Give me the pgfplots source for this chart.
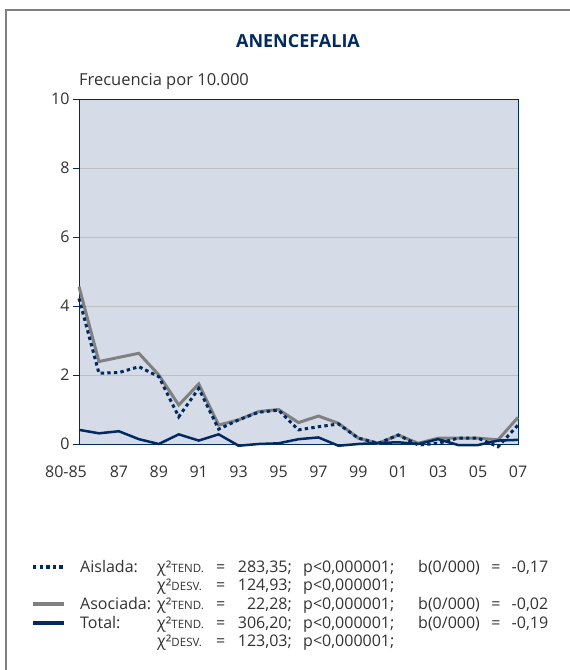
\documentclass[border=0pt]{standalone}
\usepackage{pgfplots}
\pgfplotsset{compat=1.18}
\usepackage{fontspec}
\setmainfont{Open Sans}
\definecolor{navy}{RGB}{0,42,96}
\definecolor{bgc}{RGB}{214,220,231}
\definecolor{grayline}{RGB}{128,128,128}
\definecolor{txt}{RGB}{50,50,50}
\newcommand{\chisq}[1]{χ²{\fontsize{11.5}{11.5}\selectfont #1}}
\pgfplotstableread{
x ais aso tot
0 4.22 4.56 0.41
1 2.05 2.39 0.31
2 2.07 2.51 0.37
3 2.24 2.63 0.14
4 1.95 2.00 0.00
5 0.79 1.13 0.28
6 1.61 1.74 0.10
7 0.43 0.55 0.28
8 0.70 0.70 -0.05
9 0.92 0.94 0.00
10 0.98 1.00 0.02
11 0.41 0.62 0.14
12 0.50 0.81 0.19
13 0.58 0.60 -0.05
14 0.17 0.17 0.00
15 0.02 0.02 0.03
16 0.26 0.26 0.05
17 -0.03 0.02 0.00
18 0.02 0.17 0.14
19 0.17 0.17 -0.03
20 0.17 0.17 -0.03
21 -0.08 0.12 0.10
22 0.55 0.77 0.12
}\datatable
\begin{document}
\begin{tikzpicture}
\path[use as bounding box] (0pt,0pt) rectangle (570pt,670pt);
\draw[grayline, line width=2.5pt] (6pt,-5pt) -- (6pt,660pt) -- (575pt,660pt);
\node[font=\fontsize{18}{18}\selectfont\bfseries, text=navy] at (298pt,628.5pt) {ANENCEFALIA};
\node[font=\fontsize{16.5}{16.5}\selectfont, text=txt, anchor=base west, inner sep=0pt] at (79pt,584pt) {Frecuencia por 10.000};
\begin{axis}[at={(79pt,226pt)}, anchor=south west, scale only axis,
  width=439pt, height=345pt,
  xmin=0, xmax=22, ymin=0, ymax=10,
  axis background/.style={fill=bgc},
  axis line style={navy, line width=0.8pt},
  ytick={0,2,...,10}, ymajorgrids,
  grid style={draw=black!25, line width=0.8pt},
  xtick={0,2,...,22},
  xticklabels={\hspace*{-26pt}80-85,87,89,91,93,95,97,99,01,03,05,07},
  xtick style={draw=none},
  ytick style={navy, line width=0.8pt},
  tick align=outside, ytick pos=left, major tick length=6pt,
  yticklabel style={font=\fontsize{16}{16}\selectfont, text=txt},
  xticklabel style={font=\fontsize{16}{16}\selectfont, text=txt, yshift=-12pt},
  /pgf/number format/assume math mode=true,
  clip=false,
]
\addplot[grayline, line width=3pt] table[x=x, y=aso] {\datatable};
\addplot[navy, line width=2.5pt] table[x=x, y=tot] {\datatable};
\addplot[navy, line width=3pt, dash pattern=on 3.4pt off 3.2pt] table[x=x, y=ais] {\datatable};
\end{axis}
% legend
\draw[navy, line width=3.4pt, dash pattern=on 3.4pt off 3.2pt] (33pt,103pt) -- (64pt,103pt);
\draw[grayline, line width=3.4pt] (33pt,66pt) -- (64pt,66pt);
\draw[navy, line width=3.4pt] (33pt,47pt) -- (64pt,47pt);
\begin{scope}[every node/.style={font=\fontsize{16}{16}\selectfont, text=txt, inner sep=0pt}]
\node[anchor=base west] at (80pt,97.5pt) {Aislada:};
\node[anchor=base west] at (80pt,60.5pt) {Asociada:};
\node[anchor=base west] at (80pt,41.5pt) {Total:};
\foreach \yy/\lab/\num in {97.5/TEND./{283,35}, 79.5/DESV./{124,93}, 60.5/TEND./{22,28}, 41.5/TEND./{306,20}, 23.5/DESV./{123,03}}{
  \node[anchor=base west] at (157pt,\yy pt) {\chisq{\lab}};
  \node[anchor=base west] at (216pt,\yy pt) {=};
  \node[anchor=base east] at (292pt,\yy pt) {\num;};
  \node[anchor=base west] at (303pt,\yy pt) {p<0,000001;};
}
\foreach \yy/\b in {97.5/17, 60.5/02, 41.5/19}{
  \node[anchor=base west] at (418pt,\yy pt) {\makebox[130pt][s]{b(0/000) = -0,\b}};
}
\end{scope}
\end{tikzpicture}
\end{document}
